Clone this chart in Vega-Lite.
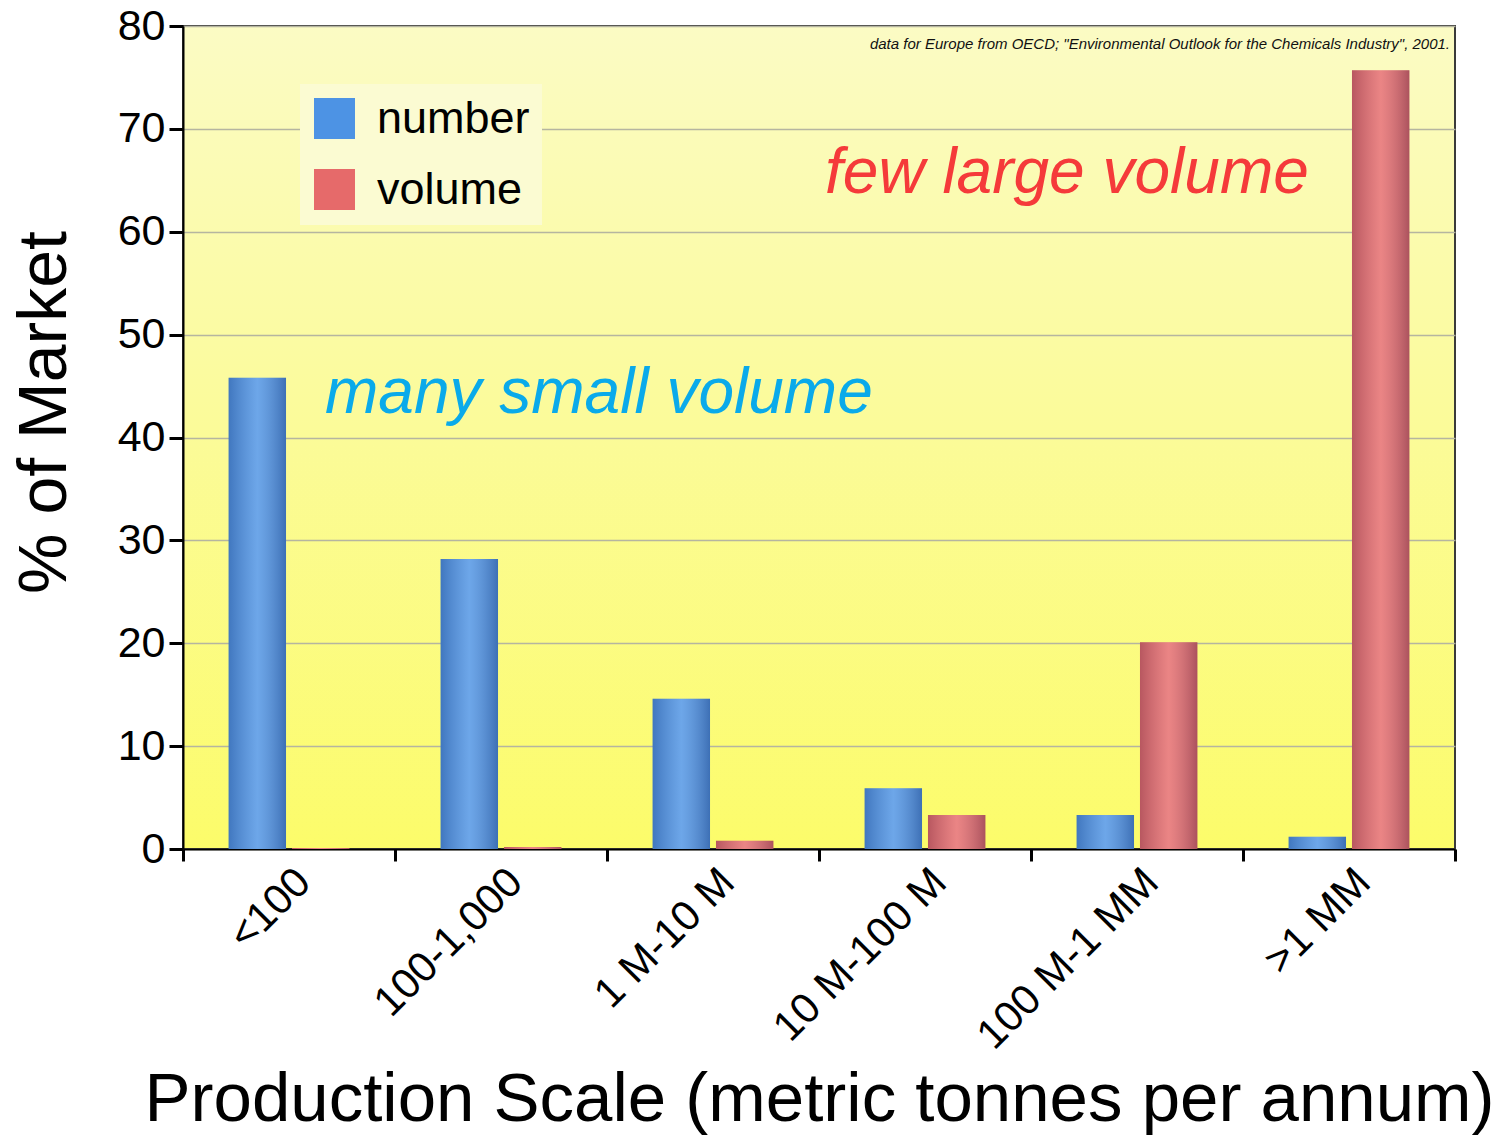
{
  "$schema": "https://vega.github.io/schema/vega-lite/v6.json",
  "width": 1272,
  "height": 823,
  "padding": {"left": 11, "top": 5, "right": 5, "bottom": 5},
  "background": "white",
  "config": {
    "font": "Liberation Sans",
    "view": {
      "stroke": "#3a3a3a",
      "strokeWidth": 2,
      "fill": {
        "gradient": "linear",
        "x1": 0, "y1": 0, "x2": 0, "y2": 1,
        "stops": [
          {"offset": 0, "color": "#fbfbc4"},
          {"offset": 0.5, "color": "#fbfb98"},
          {"offset": 1, "color": "#fcfc6a"}
        ]
      }
    }
  },
  "title": {
    "text": "data for Europe from OECD; \"Environmental Outlook for the Chemicals Industry\", 2001.",
    "anchor": "end",
    "frame": "group",
    "orient": "top",
    "offset": -47,
    "dx": -5,
    "fontSize": 15,
    "fontStyle": "italic",
    "fontWeight": "normal",
    "color": "#111111",
    "font": "Liberation Sans"
  },
  "data": {
    "values": [
      {"cat": "<100", "series": "number", "pct": 45.8},
      {"cat": "<100", "series": "volume", "pct": 0.1},
      {"cat": "100-1,000", "series": "number", "pct": 28.2},
      {"cat": "100-1,000", "series": "volume", "pct": 0.2},
      {"cat": "1 M-10 M", "series": "number", "pct": 14.6},
      {"cat": "1 M-10 M", "series": "volume", "pct": 0.8},
      {"cat": "10 M-100 M", "series": "number", "pct": 5.9},
      {"cat": "10 M-100 M", "series": "volume", "pct": 3.3},
      {"cat": "100 M-1 MM", "series": "number", "pct": 3.3},
      {"cat": "100 M-1 MM", "series": "volume", "pct": 20.1},
      {"cat": ">1 MM", "series": "number", "pct": 1.2},
      {"cat": ">1 MM", "series": "volume", "pct": 75.7}
    ]
  },
  "encoding": {
    "x": {
      "field": "cat",
      "type": "nominal",
      "sort": ["<100", "100-1,000", "1 M-10 M", "10 M-100 M", "100 M-1 MM", ">1 MM"],
      "scale": {"paddingInner": 0, "paddingOuter": 0},
      "axis": {
        "title": "Production Scale (metric tonnes per annum)",
        "titleFontSize": 69,
        "titleFontWeight": "normal",
        "titleColor": "black",
        "titlePadding": 16,
        "labelAngle": -45,
        "labelAlign": "right",
        "labelBaseline": "middle",
        "labelFontSize": 42,
        "labelColor": "black",
        "labelPadding": 14,
        "labelOffset": 14,
        "labelLimit": 0,
        "labelOverlap": false,
        "tickBand": "extent",
        "tickColor": "black",
        "tickWidth": 3,
        "tickSize": 12,
        "domainColor": "black",
        "domainWidth": 2
      }
    },
    "xOffset": {
      "field": "series",
      "type": "nominal",
      "scale": {"paddingInner": 0.094, "paddingOuter": 0.72}
    },
    "y": {
      "field": "pct",
      "type": "quantitative",
      "scale": {"domain": [0, 80], "nice": false},
      "axis": {
        "title": "% of Market",
        "titleFontSize": 68,
        "titleFontWeight": "normal",
        "titleColor": "black",
        "titlePadding": 38,
        "titleY": 386,
        "values": [0, 10, 20, 30, 40, 50, 60, 70, 80],
        "labelFontSize": 43,
        "labelColor": "black",
        "labelPadding": 4,
        "tickColor": "black",
        "tickWidth": 3,
        "tickSize": 14,
        "domainColor": "black",
        "domainWidth": 2,
        "grid": true,
        "gridColor": "#b5b5a0",
        "gridWidth": 1.5
      }
    }
  },
  "layer": [
    {
      "mark": {"type": "bar"},
      "encoding": {
        "color": {
          "field": "series",
          "type": "nominal",
          "scale": {"domain": ["number", "volume"], "range": ["#4d93e4", "#e66a6a"]},
          "legend": {
            "title": null,
            "orient": "none",
            "legendX": 117,
            "legendY": 58,
            "padding": 12,
            "fillColor": "#fbfbd2",
            "symbolType": "square",
            "symbolSize": 1681,
            "symbolStrokeWidth": 0,
            "labelFontSize": 45,
            "labelColor": "black",
            "labelOffset": 20,
            "rowPadding": 25
          }
        }
      }
    },
    {
      "mark": {
        "type": "bar",
        "color": {
          "gradient": "linear",
          "x1": 0, "y1": 0, "x2": 1, "y2": 0,
          "stops": [
            {"offset": 0, "color": "rgba(20,20,60,0.22)"},
            {"offset": 0.5, "color": "rgba(255,255,255,0.18)"},
            {"offset": 1, "color": "rgba(20,20,60,0.28)"}
          ]
        }
      }
    },
    {
      "data": {"values": [{"note": "many small volume", "cat": "<100", "pct": 42.4}]},
      "mark": {
        "type": "text",
        "align": "left",
        "baseline": "alphabetic",
        "dx": 36,
        "fontSize": 64,
        "fontStyle": "italic",
        "color": "#0aaaea"
      },
      "encoding": {
        "text": {"field": "note"},
        "xOffset": null
      }
    },
    {
      "data": {"values": [{"note": "few large volume", "cat": "10 M-100 M", "pct": 63.8}]},
      "mark": {
        "type": "text",
        "align": "left",
        "baseline": "alphabetic",
        "dx": -100,
        "fontSize": 64,
        "fontStyle": "italic",
        "color": "#f53a3a"
      },
      "encoding": {
        "text": {"field": "note"},
        "xOffset": null
      }
    }
  ]
}
